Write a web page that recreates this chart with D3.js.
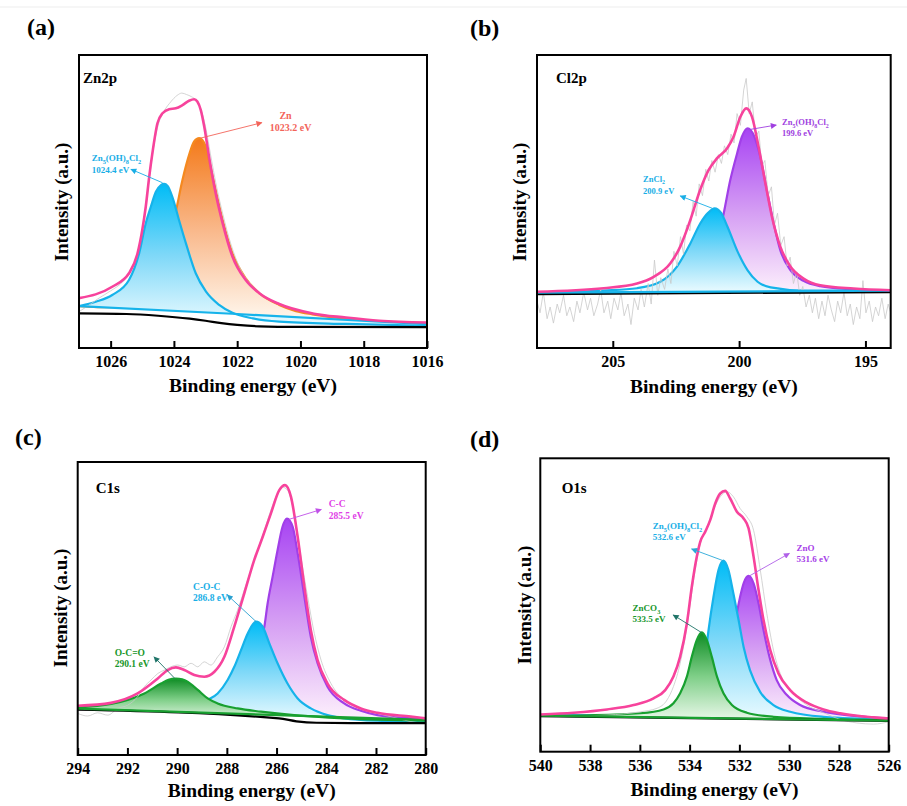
<!DOCTYPE html>
<html><head><meta charset="utf-8">
<script src="https://cdn.jsdelivr.net/npm/d3@7"></script>
<style>
body{margin:0;background:#fff;}
svg{display:block;}
svg text{font-family:"Liberation Serif","Times New Roman",Times,serif;}
</style>
</head><body>
<svg id="chart" width="907" height="806"></svg>
<script>
// ---------------- DATA (binding energy eV, intensity a.u.) ----------------
// (a) Zn2p
const zn2pTicks = [1026, 1024, 1022, 1020, 1018, 1016];
const zn2pRaw = [[1027,12.4],[1026.7,14.5],[1026.4,16.8],[1026.0,19.5],[1025.6,22.8],[1025.3,27.5],[1025.1,34.0],[1024.95,43.0],[1024.8,56.0],[1024.65,68.0],[1024.5,76.0],[1024.3,81.0],[1024.1,84.0],[1023.9,86.2],[1023.75,87.0],[1023.6,86.5],[1023.45,85.8],[1023.3,84.6],[1023.15,81.5],[1023.0,75.5],[1022.85,66.5],[1022.65,55.0],[1022.45,45.5],[1022.2,35.5],[1021.9,27.0],[1021.5,21.0],[1021.0,16.8],[1020.3,13.6],[1019.5,11.7],[1018.5,10.3],[1017.5,9.2],[1016,8.6]];
const zn2pEnvelope = [[1027,17.0],[1025.95,20.9],[1025.42,25.5],[1025.15,32.3],[1025.0,40.3],[1024.89,48.2],[1024.78,58.5],[1024.68,66.5],[1024.52,76.7],[1024.36,80.1],[1024.15,81.5],[1023.94,81.8],[1023.73,82.9],[1023.52,84.4],[1023.36,84.9],[1023.26,84.1],[1023.15,81.2],[1023.04,75.5],[1022.89,65.3],[1022.68,52.8],[1022.46,42.6],[1022.15,31.2],[1021.73,23.2],[1021.3,18.7],[1020.67,15.0],[1019.62,11.8],[1018.56,10.4],[1017.51,9.3],[1016,8.7]];
const zn2pZn = [[1027,14.3],[1026,13.9],[1025.42,14.3],[1025.1,15.5],[1024.68,19.8],[1024.36,27.8],[1024.15,36.9],[1023.94,46.5],[1023.73,57.3],[1023.52,65.9],[1023.36,70.5],[1023.2,71.6],[1022.99,68.7],[1022.89,64.2],[1022.68,53.9],[1022.46,43.7],[1022.15,32.3],[1021.73,23.8],[1021.3,18.7],[1020.67,14.7],[1020.14,12.6],[1019.62,11.5],[1018.56,10.0],[1017.51,9.1],[1016,8.4]];
const zn2pZnOHCl = [[1027,14.3],[1026.47,15.8],[1025.95,18.1],[1025.42,23.2],[1025.1,32.3],[1024.89,42.6],[1024.73,48.2],[1024.57,53.3],[1024.41,55.6],[1024.31,56.0],[1024.2,55.3],[1024.05,51.6],[1023.84,43.7],[1023.62,35.7],[1023.31,25.5],[1022.99,19.3],[1022.57,14.7],[1022.15,12.0],[1021.51,10.1],[1020.67,9.0],[1018.56,8.2],[1016,7.6]];
const zn2pLinear = [[1027,14.3],[1022,11.6],[1016,8.1]];
const zn2pShirley = [[1027,11.8],[1025.5,11.6],[1024.5,11.0],[1023.5,10.0],[1023,9.3],[1022.5,8.5],[1022,7.9],[1021.3,7.4],[1020,7.2],[1016,7.1]];

// (b) Cl2p
const cl2pTicks = [205, 200, 195];
const cl2pRaw = [[208.0,16],[207.88,12],[207.75,19],[207.6,10],[207.48,14],[207.35,8.5],[207.2,15],[207.1,12],[206.95,18],[206.82,11],[206.7,14],[206.55,9],[206.42,16],[206.3,12],[206.15,19],[206.0,13],[205.88,17],[205.75,11],[205.6,15],[205.48,20],[205.35,12],[205.2,16],[205.08,10],[204.95,17],[204.8,13],[204.68,19],[204.55,11],[204.4,15],[204.28,8],[204.15,17],[204.0,13],[203.88,20],[203.75,14],[203.6,22],[203.48,15],[203.35,30],[203.22,18],[203.1,24],[202.95,20],[202.82,27],[202.7,22],[202.58,33],[202.45,28],[202.32,38],[202.2,32],[202.08,42],[201.95,40],[201.82,50],[201.7,45],[201.58,56],[201.45,52],[201.32,61],[201.2,57],[201.08,64],[200.95,60],[200.82,66],[200.7,63],[200.58,69],[200.45,66],[200.32,73],[200.2,70],[200.08,80],[199.95,76],[199.82,88],[199.72,92],[199.6,80],[199.48,84],[199.35,72],[199.22,74],[199.1,62],[198.98,64],[198.85,52],[198.72,55],[198.6,42],[198.48,46],[198.35,35],[198.22,38],[198.1,28],[197.98,31],[197.85,22],[197.72,26],[197.6,18],[197.48,21],[197.35,14],[197.22,18],[197.1,12],[196.98,17],[196.85,10],[196.72,16],[196.6,11],[196.48,18],[196.35,13],[196.22,9],[196.1,16],[195.98,12],[195.85,19],[195.72,11],[195.6,15],[195.48,8],[195.35,14],[195.22,10],[195.1,23],[194.98,12],[194.85,16],[194.72,9],[194.6,14],[194.48,11],[194.35,17],[194.22,10],[194.1,15],[194.0,12]];
const cl2pEnvelope = [[208,19.2],[205.36,20.4],[204.04,22.0],[203.38,24.3],[202.72,28.9],[202.33,34.6],[201.93,43.7],[201.54,54.0],[201.21,60.7],[200.88,64.7],[200.48,68.1],[200.22,72.1],[199.95,78.9],[199.72,81.8],[199.49,78.9],[199.23,68.7],[198.96,56.2],[198.70,44.8],[198.37,34.6],[197.97,27.8],[197.45,23.7],[196.79,21.4],[195.47,20.3],[194,19.7]];
const cl2pZnCl2 = [[208,18.9],[205.36,19.6],[204.04,20.4],[203.12,22.6],[202.46,27.8],[201.93,35.7],[201.54,42.5],[201.22,46.2],[200.97,47.7],[200.72,46.2],[200.46,41.4],[200.06,32.9],[199.67,26.6],[199.27,22.6],[198.75,20.7],[197.45,19.6],[194,19.5]];
const cl2pZnOHCl = [[208,18.9],[203.38,19.6],[202.06,20.9],[201.40,24.3],[201.01,31.1],[200.81,37.9],[200.61,45.9],[200.35,57.3],[200.08,66.4],[199.89,72.1],[199.66,75.0],[199.42,72.6],[199.16,65.2],[198.90,53.8],[198.63,42.5],[198.37,33.4],[197.97,26.6],[197.45,22.9],[196.79,21.1],[195.47,20.0],[194,19.4]];
const cl2pLinear = [[208,18.9],[194,19.6]];
const cl2pShirley = [[208,18.4],[194,19.1]];

// (c) C1s
const c1sTicks = [294, 292, 290, 288, 286, 284, 282, 280];
const c1sRaw = [[294,14.2],[293.6,13.3],[293.2,14.4],[292.79,13.6],[292.39,15.9],[291.99,17.0],[291.59,19.9],[291.32,23.3],[291.05,25.6],[290.78,27.8],[290.51,29.0],[290.25,30.1],[289.98,30.7],[289.71,30.1],[289.44,31.3],[289.17,30.1],[288.91,31.8],[288.64,30.7],[288.37,33.5],[288.10,36.9],[287.83,43.8],[287.57,49.4],[287.30,56.3],[287.03,63.1],[286.76,69.9],[286.49,76.7],[286.23,83.5],[285.96,89.2],[285.76,91.4],[285.56,90.4],[285.29,82.4],[285.02,67.6],[284.75,54.0],[284.48,41.5],[284.21,32.4],[283.81,24.4],[283.28,18.8],[282.61,15.9],[281.94,14.2],[281.13,12.5],[280.60,11.4],[280,10.8]];
const c1sEnvelope = [[294,16.8],[292.66,17.8],[291.59,21.0],[290.78,26.1],[290.38,29.0],[290.05,29.9],[289.71,29.0],[289.31,27.3],[288.91,26.7],[288.50,28.4],[288.10,33.5],[287.70,43.8],[287.30,55.1],[286.90,66.5],[286.56,74.4],[286.23,82.4],[285.89,90.4],[285.66,92.1],[285.42,88.1],[285.15,74.4],[284.88,57.4],[284.62,42.6],[284.35,32.4],[283.95,24.4],[283.28,18.8],[282.61,15.9],[281.94,14.4],[280.60,13.1],[280,12.5]];
const c1sOCO = [[294,16.2],[292.66,17.4],[291.99,18.8],[291.32,21.0],[290.65,24.4],[290.35,25.7],[290.05,26.1],[289.8,25.8],[289.58,25.0],[289.17,22.2],[288.77,19.3],[288.37,17.6],[287.57,15.9],[286.63,14.8],[285.29,13.6],[283.28,12.5],[280,11.7]];
const c1sCOC = [[294,16.0],[289.98,15.6],[289.31,16.6],[288.77,18.8],[288.37,21.0],[287.97,25.6],[287.70,30.1],[287.43,35.8],[287.16,41.5],[286.83,45.5],[286.56,43.8],[286.29,38.1],[285.96,31.3],[285.56,24.4],[285.15,19.3],[284.62,15.9],[283.95,13.6],[283.28,12.5],[281.94,11.7],[280,11.4]];
const c1sCC = [[294,16.0],[288.64,16.5],[287.57,19.9],[287.03,26.7],[286.69,35.8],[286.49,43.8],[286.36,51.7],[286.16,60.8],[285.96,69.9],[285.76,77.9],[285.58,80.7],[285.35,77.9],[285.15,68.8],[284.88,54.0],[284.62,40.3],[284.35,31.3],[283.95,23.3],[283.28,17.6],[282.61,15.1],[281.94,13.6],[280.60,12.5],[280,12.2]];
const c1sLinear = [[294,15.8],[280,12.0]];
const c1sShirley = [[294,15.5],[285.9,12.5],[285.2,11.5],[284.4,11.0],[283,10.9],[280,10.9]];

// (d) O1s
const o1sTicks = [540, 538, 536, 534, 532, 530, 528, 526];
const o1sRaw = [[540,11.9],[537.32,12.5],[535.98,13.6],[535.31,14.8],[534.91,17.6],[534.65,22.2],[534.38,30.1],[534.11,42.6],[533.84,58.6],[533.57,71.0],[533.31,76.1],[533.04,82.4],[532.77,86.9],[532.50,88.6],[532.24,86.9],[531.97,82.9],[531.70,80.1],[531.43,75.5],[531.16,61.9],[530.90,47.2],[530.63,34.6],[530.36,26.7],[529.83,19.9],[529.29,15.9],[528.62,13.3],[527.95,11.0],[527.28,9.8],[526.61,9.4],[526,10.2]];
const o1sEnvelope = [[540,12.7],[538.66,13.3],[537.32,14.4],[536.25,15.9],[535.45,18.2],[534.98,21.0],[534.65,25.6],[534.38,32.4],[534.11,43.7],[533.91,56.3],[533.71,66.5],[533.57,71.6],[533.37,75.0],[533.17,79.0],[532.97,84.6],[532.77,88.0],[532.57,88.9],[532.37,86.3],[532.10,81.8],[531.83,79.5],[531.63,76.1],[531.43,66.5],[531.23,55.1],[531.03,44.9],[530.76,34.6],[530.43,26.7],[529.96,21.0],[529.29,16.7],[528.62,14.4],[527.95,13.1],[526.61,11.7],[526,11.3]];
const o1sZnCO3 = [[540,12.2],[537.99,12.4],[535.98,13.1],[535.05,14.4],[534.65,16.5],[534.38,19.9],[534.11,25.6],[533.91,32.4],[533.71,38.1],[533.51,40.7],[533.31,38.1],[533.11,32.4],[532.90,25.6],[532.64,19.9],[532.30,15.9],[531.70,13.3],[530.63,11.9],[528.62,11.2],[526,10.8]];
const o1sZnOHCl = [[540,12.3],[535.98,12.5],[534.38,13.7],[533.84,16.5],[533.57,22.2],[533.37,32.4],[533.24,41.4],[533.04,52.8],[532.84,61.9],[532.64,65.1],[532.44,61.9],[532.24,53.9],[532.03,44.8],[531.83,35.7],[531.57,27.7],[531.16,20.3],[530.63,15.9],[529.96,13.6],[528.62,11.9],[526,11.0]];
const o1sZnO = [[540,12.3],[535.98,12.5],[533.71,13.7],[533.04,16.5],[532.64,22.2],[532.37,31.3],[532.24,39.2],[532.10,47.2],[531.97,52.8],[531.83,57.4],[531.63,59.9],[531.43,57.4],[531.23,50.6],[531.03,41.5],[530.76,31.3],[530.50,24.4],[530.09,19.3],[529.56,15.9],[528.62,13.6],[527.28,12.1],[526,11.3]];
const o1sLinear = [[540,12.3],[526,10.6]];
const o1sShirley = [[540,12.1],[526,10.5]];

// annotation texts
const zn2pLabels = ["Zn", "1023.2 eV", "Zn_5(OH)_8Cl_2", "1024.4 eV"];
const cl2pLabels = ["Zn_5(OH)_8Cl_2", "199.6 eV", "ZnCl_2", "200.9 eV"];
const c1sLabels = ["C-C", "285.5 eV", "C-O-C", "286.8 eV", "O-C=O", "290.1 eV"];
const o1sLabels = ["Zn_5(OH)_8Cl_2", "532.6 eV", "ZnO", "531.6 eV", "ZnCO_3", "533.5 eV"];

// ---------------- STYLE ----------------
const SERIF = "'Liberation Serif','Times New Roman',Times,serif";
const PINK = "#f7439c", CYAN = "#16b3ea", ORANGE = "#f5891f", PURPLE = "#a13fe8", GREEN = "#18a030";
const gradients = {
  cyan: [[0, "#00bcf6"], [0.5, "#7ed8f8"], [1, "#ebfbff"]],
  orange: [[0, "#f47a1a"], [0.5, "#f9b98c"], [1, "#fffaf2"]],
  purple: [[0, "#a743f3"], [0.5, "#d49cf3"], [1, "#fdf0fc"]],
  green: [[0, "#0e8c24"], [0.5, "#7fcf88"], [1, "#eaf8ea"]]
};

const panels = [
  { letter: "(a)", letterPos: [27, 35], name: "Zn2p", namePos: [83, 83],
    box: {x: 79, y: 55, w: 348, h: 293}, domain: [1027, 1016], ticks: zn2pTicks,
    yTitle: [68, 202], xTitleY: 392,
    raw: zn2pRaw, rawLinear: false, envelope: zn2pEnvelope, shirley: zn2pShirley, linear: zn2pLinear, linearColor: CYAN,
    components: [
      {data: zn2pZn, base: zn2pLinear, color: ORANGE, grad: "orange"},
      {data: zn2pZnOHCl, base: zn2pLinear, color: CYAN, grad: "cyan"}],
    notes: [
      {lines: [zn2pLabels[0], zn2pLabels[1]], at: [[1020.47, 78.2], [1020.31, 73.9]], anchor: "middle", size: 10, color: "#f3645a", arrowColor: "#f3645a", arrow: [[1023.17, 71.6], [1021.22, 76.9]]},
      {lines: [zn2pLabels[2], zn2pLabels[3]], at: [[1026.6, 63.8], [1026.6, 59.6]], anchor: "start", size: 9, color: "#19aee6", arrowColor: "#19aee6", arrow: [[1024.36, 56.4], [1025.36, 61.0]]}]
  },
  { letter: "(b)", letterPos: [470, 36], name: "Cl2p", namePos: [556, 83],
    box: {x: 537, y: 55, w: 353.7, h: 293}, domain: [208, 194], ticks: cl2pTicks,
    yTitle: [526, 202], xTitleY: 393,
    raw: cl2pRaw, rawLinear: true, envelope: cl2pEnvelope, shirley: cl2pShirley, linear: cl2pLinear, linearColor: CYAN,
    components: [
      {data: cl2pZnOHCl, base: cl2pLinear, color: PURPLE, grad: "purple"},
      {data: cl2pZnCl2, base: cl2pLinear, color: CYAN, grad: "cyan"}],
    notes: [
      {lines: [cl2pLabels[0], cl2pLabels[1]], at: [[198.3, 76.1], [198.3, 72.4]], anchor: "start", size: 8.5, color: "#a040e0", arrowColor: "#a040e0", arrow: [[199.56, 74.6], [198.53, 76.1]]},
      {lines: [cl2pLabels[2], cl2pLabels[3]], at: [[203.8, 56.7], [203.8, 52.6]], anchor: "start", size: 8.5, color: "#19aee6", arrowColor: "#19aee6", arrow: [[201.07, 47.7], [202.33, 51.9]]}]
  },
  { letter: "(c)", letterPos: [15, 445], name: "C1s", namePos: [95.7, 493],
    box: {x: 77.7, y: 462, w: 348, h: 293}, domain: [294, 280], ticks: c1sTicks,
    yTitle: [67, 608], xTitleY: 797,
    raw: c1sRaw, rawLinear: false, envelope: c1sEnvelope, shirley: c1sShirley, linear: c1sLinear, linearColor: GREEN,
    components: [
      {data: c1sCC, base: c1sLinear, color: PURPLE, grad: "purple"},
      {data: c1sCOC, base: c1sLinear, color: CYAN, grad: "cyan"},
      {data: c1sOCO, base: c1sLinear, color: GREEN, grad: "green"}],
    notes: [
      {lines: [c1sLabels[0], c1sLabels[1]], at: [[283.9, 84.6], [283.9, 80.5]], anchor: "start", size: 9.5, color: "#e040e6", arrowColor: "#c050e8", arrow: [[285.51, 80.4], [284.2, 83.8]]},
      {lines: [c1sLabels[2], c1sLabels[3]], at: [[289.36, 56.3], [289.36, 52.5]], anchor: "start", size: 9.5, color: "#19aee6", arrowColor: "#2aa0d0", arrow: [[286.82, 45.5], [287.98, 54.6]]},
      {lines: [c1sLabels[4], c1sLabels[5]], at: [[292.51, 33.8], [292.51, 30.0]], anchor: "start", size: 9.5, color: "#17962a", arrowColor: "#1f7468", arrow: [[290.1, 26.2], [290.93, 33.5]]}]
  },
  { letter: "(d)", letterPos: [470, 447], name: "O1s", namePos: [561.7, 493],
    box: {x: 540.3, y: 458.3, w: 348.4, h: 293.4}, domain: [540, 526], ticks: o1sTicks,
    yTitle: [531, 605], xTitleY: 796,
    raw: o1sRaw, rawLinear: false, envelope: o1sEnvelope, shirley: o1sShirley, linear: o1sLinear, linearColor: GREEN,
    components: [
      {data: o1sZnO, base: o1sLinear, color: PURPLE, grad: "purple"},
      {data: o1sZnOHCl, base: o1sLinear, color: CYAN, grad: "cyan"},
      {data: o1sZnCO3, base: o1sLinear, color: GREEN, grad: "green"}],
    notes: [
      {lines: [o1sLabels[0], o1sLabels[1]], at: [[535.48, 75.9], [535.48, 72.2]], anchor: "start", size: 9, color: "#19aee6", arrowColor: "#2aa8d8", arrow: [[532.65, 65.1], [533.92, 69.1]]},
      {lines: [o1sLabels[2], o1sLabels[3]], at: [[529.7, 68.4], [529.7, 64.7]], anchor: "start", size: 9, color: "#a640e8", arrowColor: "#b060e8", arrow: [[531.6, 59.9], [529.99, 67.6]]},
      {lines: [o1sLabels[4], o1sLabels[5]], at: [[536.29, 48.0], [536.29, 44.2]], anchor: "start", size: 9, color: "#17962a", arrowColor: "#1f7468", arrow: [[533.52, 40.6], [534.66, 46.6]]}]
  }
];

// ---------------- RENDER ----------------
const svg = d3.select("#chart");
const defs = svg.append("defs");
Object.entries(gradients).forEach(([k, stops]) => {
  const g = defs.append("linearGradient").attr("id", "g-" + k)
    .attr("x1", 0).attr("y1", 0).attr("x2", 0).attr("y2", 1);
  stops.forEach(s => g.append("stop").attr("offset", s[0]).attr("stop-color", s[1]));
});

svg.append("line").attr("x1", 0).attr("x2", 907).attr("y1", 7).attr("y2", 7)
  .attr("stroke", "#ededed").attr("stroke-width", 1);

let markerCount = 0;
function marker(color) {
  const id = "m" + (markerCount++);
  defs.append("marker").attr("id", id).attr("viewBox", "0 0 10 10")
    .attr("refX", 9).attr("refY", 5).attr("markerWidth", 7).attr("markerHeight", 6)
    .attr("markerUnits", "userSpaceOnUse").attr("orient", "auto")
    .append("path").attr("d", "M0,0L10,5L0,10Z").attr("fill", color);
  return id;
}

function richText(textSel, str, size) {
  let sub = false;
  let i = 0;
  while (i < str.length) {
    if (str[i] === "_") {
      textSel.append("tspan").attr("font-size", size * 0.7).attr("dy", size * 0.3).text(str[i + 1]);
      sub = true; i += 2;
    } else {
      let j = i;
      while (j < str.length && str[j] !== "_") j++;
      const t = textSel.append("tspan").text(str.slice(i, j));
      if (sub) { t.attr("dy", -size * 0.3); sub = false; }
      i = j;
    }
  }
}

panels.forEach((p, idx) => {
  const {x: bx, y: by, w, h} = p.box;
  const x = d3.scaleLinear().domain(p.domain).range([0, w]);
  const y = d3.scaleLinear().domain([0, 100]).range([h, 0]);
  const g = svg.append("g").attr("transform", `translate(${bx},${by})`);
  const clipId = "clip" + idx;
  defs.append("clipPath").attr("id", clipId).append("rect").attr("width", w).attr("height", h);
  const plot = g.append("g").attr("clip-path", `url(#${clipId})`);
  const smooth = d3.line().x(d => x(d[0])).y(d => y(d[1])).curve(d3.curveMonotoneX);
  const straight = d3.line().x(d => x(d[0])).y(d => y(d[1]));

  p.components.forEach(c => {
    const back = c.base.slice().reverse().map(b => `L${x(b[0])},${y(b[1])}`).join("");
    plot.append("path").attr("d", smooth(c.data) + back + "Z").attr("fill", `url(#g-${c.grad})`);
    plot.append("path").attr("d", smooth(c.data)).attr("fill", "none")
      .attr("stroke", c.color).attr("stroke-width", 2.2);
  });

  plot.append("path").attr("d", (p.rawLinear ? straight : smooth)(p.raw)).attr("fill", "none")
    .attr("stroke", "#c9c9c9").attr("stroke-width", 0.8);

  plot.append("path").attr("d", smooth(p.shirley)).attr("fill", "none")
    .attr("stroke", "#000").attr("stroke-width", 2.2);
  plot.append("path").attr("d", smooth(p.linear)).attr("fill", "none")
    .attr("stroke", p.linearColor).attr("stroke-width", 2.2);

  plot.append("path").attr("d", smooth(p.envelope)).attr("fill", "none")
    .attr("stroke", PINK).attr("stroke-width", 2.6);

  p.notes.forEach(n => {
    const mid = marker(n.arrowColor);
    g.append("line")
      .attr("x1", x(n.arrow[0][0])).attr("y1", y(n.arrow[0][1]))
      .attr("x2", x(n.arrow[1][0])).attr("y2", y(n.arrow[1][1]))
      .attr("stroke", n.arrowColor).attr("stroke-width", 0.9)
      .attr("marker-end", `url(#${mid})`);
    n.lines.forEach((ln, k) => {
      const t = g.append("text").attr("x", x(n.at[k][0])).attr("y", y(n.at[k][1]))
        .attr("text-anchor", n.anchor).attr("font-size", n.size).attr("font-weight", "bold")
        .attr("font-family", SERIF).attr("fill", n.color);
      richText(t, ln, n.size);
    });
  });

  const axis = d3.axisBottom(x).tickValues(p.ticks).tickSizeInner(-7).tickSizeOuter(0)
    .tickPadding(8).tickFormat(d3.format("d"));
  const ax = g.append("g").attr("transform", `translate(0,${h})`).call(axis);
  ax.select(".domain").remove();
  ax.selectAll(".tick line").attr("stroke", "#000").attr("stroke-width", 2);
  ax.selectAll(".tick text").attr("font-size", 16).attr("font-weight", "bold")
    .attr("font-family", SERIF).attr("fill", "#000");

  g.append("rect").attr("width", w).attr("height", h).attr("fill", "none")
    .attr("stroke", "#000").attr("stroke-width", 2);

  svg.append("text").attr("x", p.namePos[0]).attr("y", p.namePos[1]).attr("font-family", SERIF)
    .attr("font-size", 15).attr("font-weight", "bold").text(p.name);
  svg.append("text").attr("x", p.letterPos[0]).attr("y", p.letterPos[1]).attr("font-family", SERIF)
    .attr("font-size", 24).attr("font-weight", "bold").text(p.letter);
  svg.append("text").attr("x", bx + w / 2).attr("y", p.xTitleY).attr("text-anchor", "middle")
    .attr("font-family", SERIF).attr("font-size", 19.5).attr("font-weight", "bold")
    .text("Binding energy (eV)");
  svg.append("text").attr("transform", `translate(${p.yTitle[0]},${p.yTitle[1]}) rotate(-90)`)
    .attr("text-anchor", "middle").attr("font-family", SERIF).attr("font-size", 19)
    .attr("font-weight", "bold").text("Intensity (a.u.)");
});
</script>
</body></html>
